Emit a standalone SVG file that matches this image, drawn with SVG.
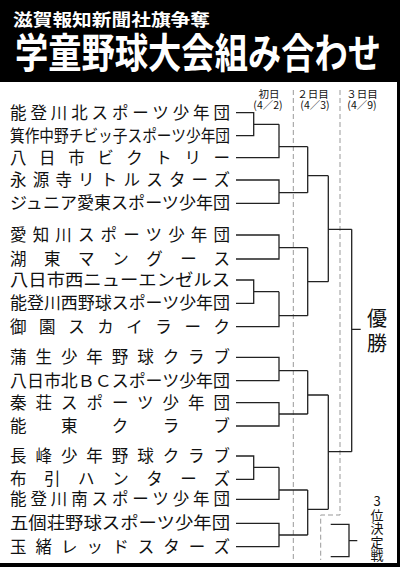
<svg xmlns="http://www.w3.org/2000/svg" width="400" height="567" viewBox="0 0 400 567">
<style>
.t{font-family:"Noto Sans CJK JP","Noto Sans CJK SC",sans-serif;font-size:16.5px;fill:#111}
.h{font-family:"Noto Sans CJK JP",sans-serif;font-size:10.5px;fill:#111;text-anchor:middle}
.w{font-family:"Noto Sans CJK JP",sans-serif;fill:#fff;font-weight:bold}
.v{font-family:"Noto Sans CJK JP",sans-serif;fill:#111;writing-mode:vertical-rl;text-orientation:upright}
.c{fill:none;stroke:#222;stroke-width:1.3}
.d{fill:none;stroke:#999;stroke-width:1;stroke-dasharray:5 3}
</style>
<rect x="0" y="0" width="400" height="567" fill="#fff"/>
<g id="header">
<rect x="0" y="0" width="400" height="82" fill="#000"/>
<text class="w" x="13" y="25.5" font-size="17" textLength="197" lengthAdjust="spacingAndGlyphs">滋賀報知新聞社旗争奪</text>
<text class="w" transform="translate(15,68) scale(1,1.2)" x="0" y="0" font-size="34" textLength="366" lengthAdjust="spacingAndGlyphs">学童野球大会組み合わせ</text>
</g>
<rect x="397" y="82" width="3" height="485" fill="#000"/>
<rect x="0" y="563" width="400" height="4" fill="#000"/>
<g id="round-labels">
<text class="h"><tspan x="269" y="98">初日</tspan><tspan x="268" y="109">(4／2)</tspan></text>
<text class="h"><tspan x="313" y="98">２日目</tspan><tspan x="315" y="109">(4／3)</tspan></text>
<text class="h"><tspan x="362" y="98">３日目</tspan><tspan x="362" y="109">(4／9)</tspan></text>
</g>
<g id="teams">
<g id="team01"><text class="t" x="10" y="118.7" textLength="220" lengthAdjust="spacing">能登川北スポーツ少年団</text></g>
<g id="team02"><text class="t" x="10" y="141.7" textLength="220" lengthAdjust="spacingAndGlyphs">箕作中野チビッ子スポーツ少年団</text></g>
<g id="team03"><text class="t" x="10" y="163.7" textLength="220" lengthAdjust="spacing">八日市ビクトリー</text></g>
<g id="team04"><text class="t" x="10" y="186" textLength="220" lengthAdjust="spacing">永源寺リトルスターズ</text></g>
<g id="team05"><text class="t" x="10" y="209.3" textLength="220" lengthAdjust="spacingAndGlyphs">ジュニア愛東スポーツ少年団</text></g>
<g id="team06"><text class="t" x="10" y="241" textLength="220" lengthAdjust="spacing">愛知川スポーツ少年団</text></g>
<g id="team07"><text class="t" x="10" y="265" textLength="220" lengthAdjust="spacing">湖東マングース</text></g>
<g id="team08"><text class="t" x="10" y="286" textLength="220" lengthAdjust="spacingAndGlyphs">八日市西ニューエンゼルス</text></g>
<g id="team09"><text class="t" x="10" y="309.3" textLength="220" lengthAdjust="spacingAndGlyphs">能登川西野球スポーツ少年団</text></g>
<g id="team10"><text class="t" x="10" y="332.7" textLength="220" lengthAdjust="spacing">御園スカイラーク</text></g>
<g id="team11"><text class="t" x="10" y="363.3" textLength="220" lengthAdjust="spacing">蒲生少年野球クラブ</text></g>
<g id="team12"><text class="t" x="10" y="386.7" textLength="220" lengthAdjust="spacingAndGlyphs">八日市北ＢＣスポーツ少年団</text></g>
<g id="team13"><text class="t" x="10" y="408.7" textLength="220" lengthAdjust="spacing">秦荘スポーツ少年団</text></g>
<g id="team14"><text class="t" x="10" y="432" textLength="220" lengthAdjust="spacing">能東クラブ</text></g>
<g id="team15"><text class="t" x="10" y="462" textLength="220" lengthAdjust="spacing">長峰少年野球クラブ</text></g>
<g id="team16"><text class="t" x="10" y="485.3" textLength="220" lengthAdjust="spacing">布引ハンターズ</text></g>
<g id="team17"><text class="t" x="10" y="505.3" textLength="220" lengthAdjust="spacing">能登川南スポーツ少年団</text></g>
<g id="team18"><text class="t" x="10" y="529.3" textLength="220" lengthAdjust="spacingAndGlyphs">五個荘野球スポーツ少年団</text></g>
<g id="team19"><text class="t" x="10" y="552.7" textLength="220" lengthAdjust="spacing">玉緒レッドスターズ</text></g>
</g>
<g id="final"><text class="v" x="377" y="308" font-size="20" letter-spacing="5">優勝</text></g>
<g id="third-place"><text class="v" x="377" y="495" font-size="13" letter-spacing="0.4">3位決定戦</text></g>
<g id="connectors">
<path class="d" d="M293.3,90V560M340,90V515H320.7V560"/>
<path class="c" d="M236,112.7H253.7V135.7H236M253.7,124.3H279M236,157.7H279V124.3M279,146.7H307.7M236,180H279V203.3H236M279,192.7H307.7M307.7,146.7V192.7M307.7,175.7H328.3M236,235H279V259H236M279,247.7H307.7M236,280H253.7V303.3H236M253.7,291.7H279M236,326.7H279V291.7M279,315.7H307.7M307.7,247.7V315.7M307.7,281.7H328.3M328.3,175.7V281.7M328.3,229.3H351.7M351.7,229.3V451.7M351.7,329.3H360.7"/>
<path class="c" d="M236,357.3H279V380.7H236M279,370.7H307.7M236,402.7H279V426H236M279,414H307.7M307.7,370.7V414M307.7,395H328.3M236,456H253.7V479.3H236M253.7,467.3H279M236,499.3H279V467.3M279,490H307.7M236,523.3H279V546.7H236M279,535H307.7M307.7,490V535M307.7,509.3H328.3M328.3,395V509.3M328.3,451.7H351.7"/>
<path class="c" d="M330.7,524.3H349V556.7H330.7M349,540.7H357.3"/>
</g>
</svg>
